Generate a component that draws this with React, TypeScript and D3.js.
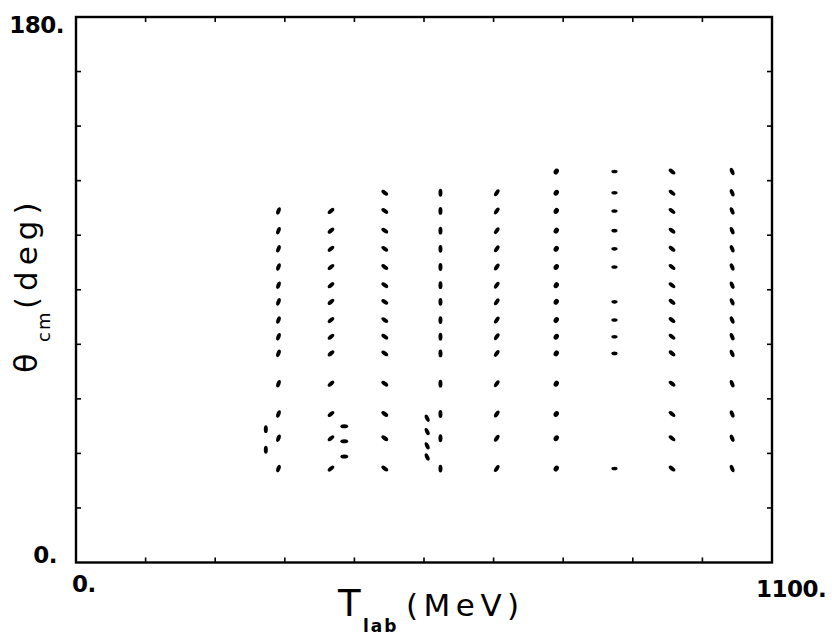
import React from "react";
import * as d3 from "d3";

// Beam energies (MeV) of the measured columns
const energies = [300, 320, 403, 424, 488, 555, 576, 665, 759, 851, 942, 1037];
// Orientation of the elongated data marks for each column (degrees)
const tilt = [90, -70, -40, 0, 35, 65, 90, -55, -60, 0, 38, 68];

// c.m. angles (deg) measured at each energy
const theta300 = [44, 37.2];
const theta320 = [116, 109.5, 103.5, 97.5, 91.5, 86, 80, 74.5, 69, 59, 49, 41, 31];
const theta403 = [116, 109.5, 103.5, 97.5, 91.5, 86, 80, 74.5, 69, 59, 49, 41, 31];
const theta424 = [45, 40, 35];
const theta488 = [122, 116, 109.5, 103.5, 97.5, 91.5, 86, 80, 74.5, 69, 59, 49, 41, 31];
const theta555 = [47.6, 43.2, 38.5, 34.8];
const theta576 = [122, 116, 109.5, 103.5, 97.5, 91.5, 86, 80, 74.5, 69, 59, 49, 41, 31];
const theta665 = [122, 116, 109.5, 103.5, 97.5, 91.5, 86, 80, 74.5, 69, 59, 49, 41, 31];
const theta759 = [129, 122, 116, 109.5, 103.5, 97.5, 91.5, 86, 80, 74.5, 69, 59, 49, 41, 31];
const theta851 = [129, 122, 116, 109.5, 103.5, 97.5, 86, 80, 74.5, 69, 31];
const theta942 = [129, 122, 116, 109.5, 103.5, 97.5, 91.5, 86, 80, 74.5, 69, 59, 49, 41, 31];
const theta1037 = [129, 122, 116, 109.5, 103.5, 97.5, 91.5, 86, 80, 74.5, 69, 59, 49, 41, 31];

const thetaSets = [
  theta300, theta320, theta403, theta424, theta488, theta555,
  theta576, theta665, theta759, theta851, theta942, theta1037,
];

const xTickValues = d3.range(110, 1100, 110);
const yTickValues = d3.range(18, 180, 18);

const W = 832;
const H = 638;
const L = 76, R = 772, T = 17, B = 562.5;

export default function App() {
  const x = d3.scaleLinear().domain([0, 1100]).range([L, R]);
  const y = d3.scaleLinear().domain([0, 180]).range([B, T]);

  const points = energies.flatMap((e, i) =>
    thetaSets[i].map((th) => ({ e, th, rot: tilt[i], round: e === 759, small: e === 851 }))
  );

  const tickFont = "'DejaVu Sans', sans-serif";
  const titleFont = "'DejaVu Sans', sans-serif";
  const tl = 5;

  return (
    <svg
      width={W}
      height={H}
      style={{ position: "absolute", left: 0, top: 0, background: "#fff" }}
    >
      <rect x={0} y={0} width={W} height={H} fill="#fff" />
      {/* frame */}
      <rect x={L} y={T} width={R - L} height={B - T} fill="none" stroke="#000" strokeWidth={2.4} />
      {/* x ticks (bottom & top, inward) */}
      {xTickValues.map((v) => (
        <g key={"xt" + v} stroke="#000" strokeWidth={1.6}>
          <line x1={x(v)} x2={x(v)} y1={B} y2={B - tl} />
          <line x1={x(v)} x2={x(v)} y1={T} y2={T + tl} />
        </g>
      ))}
      {/* y ticks (left & right, inward) */}
      {yTickValues.map((v) => (
        <g key={"yt" + v} stroke="#000" strokeWidth={1.6}>
          <line x1={L} x2={L + tl} y1={y(v)} y2={y(v)} />
          <line x1={R} x2={R - tl} y1={y(v)} y2={y(v)} />
        </g>
      ))}
      {/* tick labels */}
      <g fontFamily={tickFont} fontWeight="bold" fontSize={23} fill="#000" letterSpacing={-0.5}>
        <text x={L - 12} y={y(180) + 16} textAnchor="end">180.</text>
        <text x={L - 19} y={y(0) + 0.5} textAnchor="end">0.</text>
        <text x={x(0) - 4} y={592} textAnchor="start">0.</text>
        <text x={x(1100) - 16} y={597} textAnchor="start">1100.</text>
      </g>
      {/* data marks */}
      <g fill="#000">
        {points.map((p, i) => (
          <ellipse
            key={i}
            cx={0}
            cy={0}
            rx={p.round ? 3.1 : p.small ? 3.1 : 3.9}
            ry={p.round ? 2.5 : p.small ? 1.8 : 2.0}
            transform={`translate(${x(p.e)},${y(p.th)}) rotate(${p.rot})`}
          />
        ))}
      </g>
      {/* x title */}
      <g fontFamily={titleFont} fill="#000">
        <text x={338} y={616} fontSize={37}>T</text>
        <text x={363} y={632} fontSize={17} fontWeight="bold" letterSpacing={2}>lab</text>
        <text x={406} y={616} fontSize={31} letterSpacing={5.5}>(MeV)</text>
      </g>
      {/* y title */}
      <g fontFamily={titleFont} fill="#000" transform="translate(37,373) rotate(-90)">
        <text x={0} y={0} fontSize={32}>θ</text>
        <text x={31} y={13} fontSize={18} letterSpacing={2}>cm</text>
        <text x={64} y={0} fontSize={31} letterSpacing={6}>(deg)</text>
      </g>
    </svg>
  );
}
